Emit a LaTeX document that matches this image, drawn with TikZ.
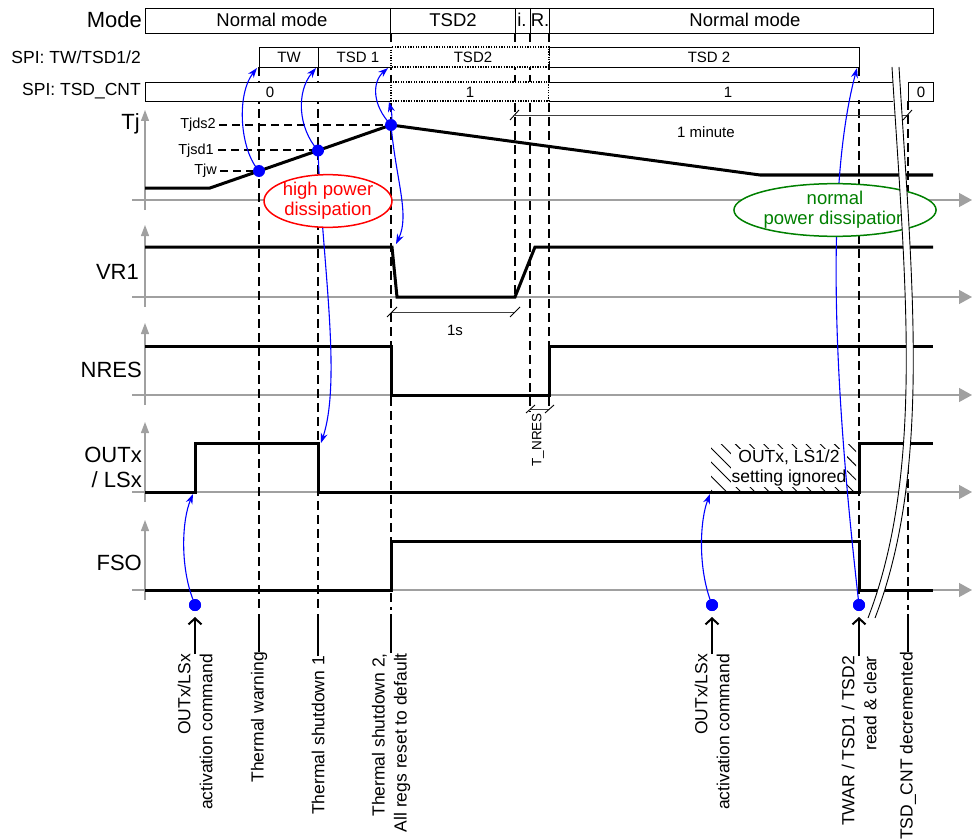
\documentclass[tikz,border=0pt]{standalone}
\usepackage{fontspec}
\setmainfont{Liberation Sans}
\usetikzlibrary{arrows.meta,patterns.meta,shapes.geometric}
\definecolor{axisgray}{RGB}{160,160,160}
\definecolor{dgreen}{RGB}{0,128,0}
\newcommand{\fsz}[1]{\fontsize{#1}{#1}\selectfont}
\begin{document}
\begin{tikzpicture}[x=1pt,y=-1pt,
  axisv/.style={draw=axisgray,line width=1.3pt,-{Triangle[length=11pt,width=8pt]}},
  axish/.style={draw=axisgray,line width=1.3pt,-{Triangle[length=13pt,width=14pt]}},
  sig/.style={line width=3pt,line join=miter},
  vdash/.style={line width=2pt,dash pattern=on 9pt off 5pt},
  hdash/.style={line width=2pt,dash pattern=on 8pt off 5pt},
  rowbox/.style={draw,line width=0.9pt,fill=white},
  dotbox/.style={draw,line width=1.3pt,dash pattern=on 1.3pt off 1.3pt,fill=white},
  thin/.style={line width=0.9pt},
  bluearr/.style={draw=blue,line width=1.1pt,-{Stealth[length=10pt,width=7pt]}},
  bdot/.style={circle,fill=blue,inner sep=0pt,minimum size=12pt},
  blkarr/.style={line width=2pt,-{Straight Barb[length=6pt,width=13pt]}},
  dim/.style={draw=black!75,line width=0.9pt},
  lbl/.style={font=\fsz{22},inner sep=0pt,anchor=east},
  rowlbl/.style={font=\fsz{17.5},inner sep=0pt,anchor=east},
  modetxt/.style={font=\fsz{18.5}},
  spitxt/.style={font=\fsz{15}},
  tjlbl/.style={font=\fsz{14.5},anchor=east,inner sep=0pt},
  blab/.style={font=\fontsize{17.5}{22}\selectfont,rotate=90,anchor=east,align=right,inner sep=0pt},
  elltxt/.style={ellipse,line width=1.5pt,fill=white,inner sep=0pt,align=center,font=\fontsize{18.5}{20}\selectfont},
]
\useasboundingbox (0,0) rectangle (972,840);

% ---------- axes ----------
\foreach \b/\t in {200/110,297/225,395/323,492/422,590/520}{
  \draw[axisv] (145,\b+10) -- (145,\t);
  \draw[axish] (132,\b) -- (972,\b);
}

% ---------- key coordinates ----------
\coordinate (W) at (259,171);
\coordinate (S1) at (318,150.5);
\coordinate (S2) at (391,125);

% ---------- vertical dashed lines ----------
\draw[vdash] (259,67) -- (259,610);
\draw[vdash] (318,67) -- (318,610);
\draw[vdash] (391,33) -- (391,610);
\draw[vdash] (515,33) -- (515,297);
\draw[vdash] (530,33) -- (530,412);
\draw[vdash] (549,33) -- (549,410);
\draw[vdash] (859,67) -- (859,600);
\draw[vdash] (908,101) -- (908,610);

% ---------- Mode row ----------
\draw[rowbox] (145,8) rectangle (933,33);
\foreach \x in {390,515,530,549} \draw[thin] (\x,8) -- (\x,33);
\node[lbl] (model) at (142,20) {Mode};
\node[modetxt] (m1) at (272,20) {Normal mode};
\node[modetxt] (m2) at (453,20) {TSD2};
\node[modetxt] (m3) at (522,20) {i.};
\node[modetxt] (m4) at (540,20) {R.};
\node[modetxt] (m5) at (745,20) {Normal mode};

% ---------- SPI TW/TSD1/2 row ----------
\node[rowlbl] (spil) at (141,57) {SPI: TW/TSD1/2};
\draw[rowbox] (259,47) rectangle (391,67);
\draw[thin] (318,47) -- (318,67);
\draw[dotbox] (391,47) rectangle (549,67);
\draw[thin] (549,47) -- (859,47) -- (859,67) -- (549,67);
\node[spitxt] (s1) at (289,57) {TW};
\node[spitxt] (s2) at (358,57) {TSD 1};
\node[spitxt] (s3) at (473,57) {TSD2};
\node[spitxt] (s4) at (709,57) {TSD 2};

% ---------- SPI TSD_CNT row ----------
\node[rowlbl] (cntl) at (141,91) {SPI: TSD\_CNT};
\draw[rowbox] (145,82) rectangle (391,101);
\draw[dotbox] (391,82) rectangle (549,101);
\fill[white] (549,83) rectangle (893,100);
\draw[thin] (549,82) -- (893,82) (549,101) -- (893,101);
\draw[rowbox] (908,82) rectangle (933,101);
\node[spitxt] (c1) at (270,92) {0};
\node[spitxt] (c2) at (470,92) {1};
\node[spitxt] (c3) at (728,92) {1};
\node[spitxt] (c4) at (921,92) {0};

% ---------- signal labels ----------
\node[lbl] (tjl) at (140,124) {Tj};
\node[lbl] (vrl) at (139,272) {VR1};
\node[lbl] (nrl) at (142,370) {NRES};
\node[lbl,align=right,font=\fontsize{22}{25}\selectfont] (oul) at (142,467) {OUTx\\/ LSx};
\node[lbl] (fsl) at (142,563) {FSO};

% ---------- Tj thresholds ----------
\node[tjlbl] (lds2) at (216,125) {Tjds2};
\node[tjlbl] (lsd1) at (214,150.5) {Tjsd1};
\node[tjlbl] (ljw) at (217,171) {Tjw};
\draw[hdash] ([xshift=3pt]lds2.east) -- (S2);
\draw[hdash] ([xshift=4pt]lsd1.east) -- (S1);
\draw[hdash] ([xshift=3pt]ljw.east) -- (W);

% ---------- signals ----------
\draw[sig] (145,188) -- (210,188) -- (W) -- (S1) -- (S2) -- (760,175) -- (933,175);
\draw[sig] (145,247) -- (392,247) -- (397,297) -- (515,297) -- (535,247) -- (933,247);
\draw[sig] (145,346) -- (391,346) -- (391,395) -- (549,395) -- (549,346) -- (933,346);
\draw[sig] (145,492) -- (195,492) -- (195,443) -- (318,443) -- (318,492) -- (859,492) -- (859,443) -- (933,443);
\draw[sig] (145,590) -- (391,590) -- (391,541) -- (859,541) -- (859,590) -- (933,590);

% ---------- ignored region ----------
\fill[pattern={Lines[angle=-45,distance=10pt,line width=0.9pt]}] (711,444) rectangle (856,490);
\node[fill=white,inner sep=1pt,align=center,font=\fontsize{17.5}{20}\selectfont] (ign) at (789,468) {OUTx, LS1/2\\setting ignored};

% ---------- dimensions ----------
\draw[dim] (392,312) -- (515,312);
\draw[thin] (387,317) -- (397,307);
\draw[thin] (510,317) -- (520,307);
\node[spitxt] (d1s) at (455,330) {1s};
\draw[dim] (530,409) -- (549,409);
\draw[thin] (526,413) -- (535,405);
\draw[thin] (545,413) -- (554,405);
\node[font=\fsz{13.5},rotate=90,anchor=east,inner sep=0pt] (tnr) at (538,413) {T\_NRES};
\draw[dim] (515,115) -- (908,115);
\draw[thin] (510,120) -- (519,110);
\draw[thin] (903,120) -- (912,110);
\node[spitxt] (d1m) at (706,132) {1 minute};

% ---------- dots ----------
\node[bdot] (dL) at (195,605) {};
\node[bdot] (dR) at (712,605) {};
\node[bdot] (dT) at (859,605) {};

% ---------- blue arrows ----------
\draw[bluearr] (W) .. controls (240,150) and (236,95) .. (257,68);
\draw[bluearr] (S1) .. controls (298,128) and (296,92) .. (316,68);
\draw[bluearr] (S2) .. controls (372,105) and (372,82) .. (388,68);
\draw[bluearr] (S2) .. controls (393,116) and (391,110) .. (389,102);
\draw[bluearr] (S1) .. controls (322,260) and (342,380) .. (321,443);
\draw[bluearr] (S2) .. controls (396,180) and (410,215) .. (396,244);
\draw[bluearr] (dL) .. controls (180,565) and (182,520) .. (193,494);
\draw[bluearr] (dR) .. controls (698,565) and (700,520) .. (710,494);
\draw[bluearr] (dT) .. controls (838,420) and (822,200) .. (857,68);

\node[bdot] (dW) at (W) {};
\node[bdot] (dS1) at (S1) {};
\node[bdot] (dS2) at (S2) {};
\node[bdot] at (dL) {};
\node[bdot] at (dR) {};
\node[bdot] at (dT) {};

% ---------- ellipses ----------
\node[elltxt,draw=red,text=red,minimum width=125pt,minimum height=48pt] (hp) at (328,201) {high power\\dissipation};
\node[elltxt,draw=dgreen,text=dgreen,minimum width=198pt,minimum height=46pt] (np) at (835,210) {normal\\power dissipation};

% ---------- break ----------
\fill[white] (892,67) .. controls (905,280) and (925,470) .. (868,618) -- (875,618) .. controls (932,470) and (912,280) .. (899,67) -- cycle;
\draw[thin] (892,67) .. controls (905,280) and (925,470) .. (868,618);
\draw[thin] (899,67) .. controls (912,280) and (932,470) .. (875,618);

% ---------- bottom labels ----------
\node[blab] (lA) at (195,654) {OUTx/LSx\\activation command};
\node[blab] (lWn) at (259,652) {Thermal warning};
\node[blab] (lS1) at (318,656) {Thermal shutdown 1};
\node[blab] (lS2) at (391,653) {Thermal shutdown 2,\\All regs reset to default};
\node[blab] (lB) at (712,654) {OUTx/LSx\\activation command};
\node[blab] (lT) at (859,656) {TWAR / TSD1 / TSD2\\read \& clear};
\node[blab] (lC) at (908,652) {TSD\_CNT decremented};

\draw[blkarr] (lA.east) -- (195,617);
\draw[blkarr] (lB.east) -- (712,617);
\draw[blkarr] (lT.east) -- (859,617);
\draw[line width=2pt] (lWn.east) -- (259,614);
\draw[line width=2pt] (lS1.east) -- (318,614);
\draw[line width=2pt] (lS2.east) -- (391,614);
\draw[line width=2pt] (lC.east) -- (908,614);
\end{tikzpicture}
\end{document}
